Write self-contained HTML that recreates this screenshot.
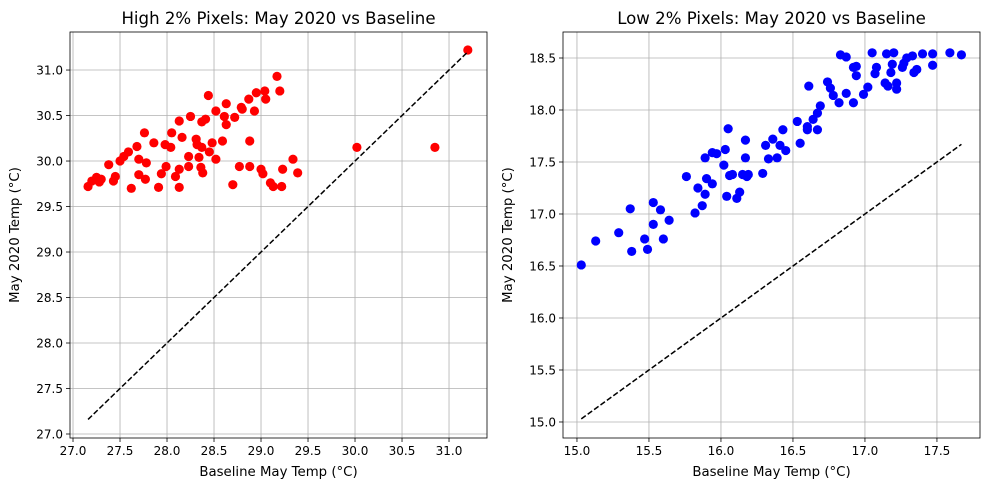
<!DOCTYPE html>
<html><head><meta charset="utf-8"><style>
body{margin:0;background:#fff;}
svg{display:block;font-family:"DejaVu Sans","Liberation Sans",sans-serif;}
</style></head><body>
<svg id="chart" width="989" height="490"></svg>
<script>
const leftBase=[27.16,27.25,27.3,27.38,27.43,27.45,27.5,27.54,27.59,27.68,27.7,27.78,27.62,27.7,27.77,27.76,27.86,27.91,27.94,27.98,27.99,28.05,28.04,28.13,28.13,28.09,28.13,28.16,28.23,28.23,28.25,28.31,28.32,28.34,28.36,28.38,28.37,28.41,28.37,28.45,28.48,28.44,28.52,28.52,28.59,28.63,28.63,28.61,28.7,28.72,28.77,28.79,28.8,28.87,28.88,28.88,28.93,28.95,29.0,29.02,29.04,29.05,29.1,29.13,29.17,29.2,29.23,29.22,29.34,29.39,30.02,30.85,31.2,27.2,27.28];
const leftMay=[29.72,29.82,29.8,29.96,29.78,29.83,30.0,30.05,30.1,30.16,30.02,29.98,29.7,29.85,29.8,30.31,30.2,29.71,29.86,30.18,29.94,30.31,30.15,30.44,29.71,29.83,29.91,30.26,29.94,30.05,30.49,30.24,30.18,30.04,29.93,29.87,30.43,30.46,30.15,30.1,30.2,30.72,30.02,30.55,30.22,30.63,30.4,30.49,29.74,30.48,29.94,30.59,30.57,30.68,29.94,30.22,30.55,30.75,29.91,29.86,30.77,30.68,29.76,29.72,30.93,30.77,29.91,29.72,30.02,29.87,30.15,30.15,31.22,29.78,29.77];
const rightBase=[15.03,15.13,15.29,15.37,15.38,15.47,15.49,15.53,15.53,15.58,15.6,15.64,15.76,15.82,15.84,15.87,15.89,15.9,15.89,15.94,15.94,15.97,16.02,16.03,16.05,16.04,16.11,16.13,16.06,16.08,16.15,16.19,16.18,16.17,16.17,16.29,16.31,16.33,16.39,16.36,16.43,16.41,16.45,16.55,16.53,16.6,16.6,16.64,16.67,16.69,16.67,16.61,16.74,16.76,16.78,16.82,16.87,16.92,16.83,16.87,16.92,16.94,16.94,16.99,17.02,17.05,17.08,17.07,17.15,17.2,17.18,17.19,17.14,17.16,17.22,17.22,17.26,17.29,17.27,17.33,17.34,17.36,17.4,17.47,17.47,17.59,17.67];
const rightMay=[16.51,16.74,16.82,17.05,16.64,16.76,16.66,17.11,16.9,17.04,16.76,16.94,17.36,17.01,17.25,17.08,17.19,17.34,17.54,17.29,17.59,17.58,17.47,17.62,17.82,17.17,17.15,17.21,17.37,17.38,17.38,17.38,17.36,17.54,17.71,17.39,17.66,17.53,17.54,17.72,17.81,17.66,17.61,17.68,17.89,17.84,17.81,17.91,17.81,18.04,17.97,18.23,18.27,18.21,18.14,18.07,18.16,18.07,18.53,18.51,18.41,18.42,18.33,18.15,18.22,18.55,18.41,18.35,18.54,18.55,18.36,18.44,18.26,18.23,18.26,18.2,18.41,18.5,18.45,18.52,18.36,18.39,18.54,18.54,18.43,18.55,18.53];
const leftXTicks=[27.0,27.5,28.0,28.5,29.0,29.5,30.0,30.5,31.0];
const leftYTicks=[27.0,27.5,28.0,28.5,29.0,29.5,30.0,30.5,31.0];
const rightXTicks=[15.0,15.5,16.0,16.5,17.0,17.5];
const rightYTicks=[15.0,15.5,16.0,16.5,17.0,17.5,18.0,18.5];

const NS="http://www.w3.org/2000/svg";
const svg=document.getElementById('chart');
function mk(tag,attrs,parent){const e=document.createElementNS(NS,tag);for(const k in attrs)e.setAttribute(k,attrs[k]);(parent||svg).appendChild(e);return e;}

function panel(cfg){
  const g=mk('g',{});
  
  
  const sx=v=>cfg.x0+(v-cfg.xmin)/(cfg.xmax-cfg.xmin)*(cfg.x1-cfg.x0);
  const sy=v=>cfg.y1-(v-cfg.ymin)/(cfg.ymax-cfg.ymin)*(cfg.y1-cfg.y0);
  cfg.xt.forEach(t=>{
    const l=mk('line',{x1:sx(t),x2:sx(t),y1:cfg.y0,y2:cfg.y1,stroke:'#b0b0b0','stroke-width':0.8},g);
    
    
    mk('line',{x1:sx(t),x2:sx(t),y1:cfg.y1,y2:cfg.y1+4,stroke:'#000','stroke-width':0.8},g);
    const tx=mk('text',{x:sx(t),y:cfg.y1+17,'font-size':12,'text-anchor':'middle',fill:'#000'},g);
    tx.textContent=t.toFixed(1);
    
    
  });
  cfg.yt.forEach(t=>{
    const l=mk('line',{x1:cfg.x0,x2:cfg.x1,y1:sy(t),y2:sy(t),stroke:'#b0b0b0','stroke-width':0.8},g);
    
    
    mk('line',{x1:cfg.x0-4,x2:cfg.x0,y1:sy(t),y2:sy(t),stroke:'#000','stroke-width':0.8},g);
    const tx=mk('text',{x:cfg.x0-7,y:sy(t)+4.5,'font-size':12,'text-anchor':'end',fill:'#000'},g);
    tx.textContent=t.toFixed(1);
    
    
  });
  cfg.xs.forEach((v,i)=>{
    const c=mk('circle',{cx:sx(v),cy:sy(cfg.ys[i]),r:4.6,fill:cfg.color},g);
    
    
  });
  const mn=Math.min(...cfg.xs),mx=Math.max(...cfg.xs);
  const dl=mk('line',{x1:sx(mn),y1:sy(mn),x2:sx(mx),y2:sy(mx),stroke:'#000','stroke-width':1.5,'stroke-dasharray':'5.5,2.4'},g);
  
  
  const fr=mk('rect',{x:cfg.x0,y:cfg.y0,width:cfg.x1-cfg.x0,height:cfg.y1-cfg.y0,fill:'none',stroke:'#000','stroke-width':0.8},g);
  
  
  const ti=mk('text',{x:(cfg.x0+cfg.x1)/2,y:24,'font-size':16.6,'text-anchor':'middle'},g);
  ti.textContent=cfg.title;
  
  
  const xl=mk('text',{x:(cfg.x0+cfg.x1)/2,y:476,'font-size':13.3,'text-anchor':'middle'},g);
  xl.textContent='Baseline May Temp (°C)';
  
  
  const yx=cfg.x0-51, yy=(cfg.y0+cfg.y1)/2;
  const yl=mk('text',{x:yx,y:yy,'font-size':13.3,'text-anchor':'middle',transform:`rotate(-90 ${yx} ${yy})`},g);
  yl.textContent='May 2020 Temp (°C)';
  
  
}
panel({name:'high-pixels-panel',title:'High 2% Pixels: May 2020 vs Baseline',x0:70,x1:487,y0:32,y1:438,xmin:26.968,xmax:31.404,ymin:26.956,ymax:31.418,xt:leftXTicks,yt:leftYTicks,xs:leftBase,ys:leftMay,color:'#ff0000'});
panel({name:'low-pixels-panel',title:'Low 2% Pixels: May 2020 vs Baseline',x0:563,x1:980,y0:32,y1:438,xmin:14.903,xmax:17.799,ymin:14.846,ymax:18.75,xt:rightXTicks,yt:rightYTicks,xs:rightBase,ys:rightMay,color:'#0000ff'});
</script>
</body></html>
